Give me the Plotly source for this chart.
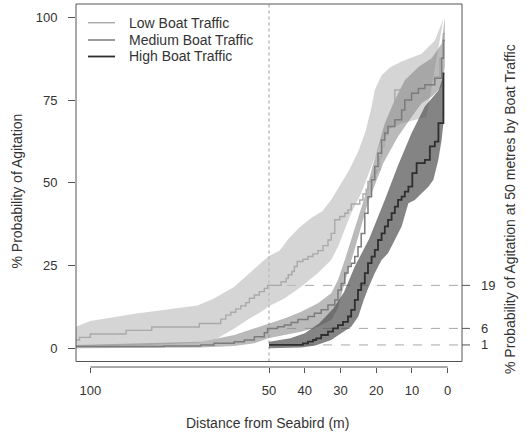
import plotly.graph_objects as go

# ---------------- data ----------------
series_names = ["Low Boat Traffic", "Medium Boat Traffic", "High Boat Traffic"]

low_d = [104, 103, 100, 90, 82.8, 69.5, 63.5, 62.1, 60.7, 59.3, 57.9, 56.5, 55.5, 54.1, 52.7,
         51.3, 50.4, 46.6, 45.2, 44.6, 43.6, 42.9, 42.1, 40.5, 39.1, 37.7, 36.3, 34.9, 33.5, 32.6,
         31.6, 30.2, 28.8, 27.9, 27.0, 24.6, 23.7, 22.8, 22.3, 21.3, 20.6, 19.9, 19.0, 18.5, 17.8,
         16.7, 15.5, 14.8, 9.6, 8.2, 6.8, 5.4, 3.6, 2.2, 1.2, 0.8]
low_v = [2.5, 3.3, 4.3, 5.4, 6.4, 7.5, 8.8, 10.0, 10.9, 11.9, 12.8, 13.8, 15.1, 16.1, 17.1,
         18.1, 19.0, 20.1, 21.1, 22.2, 23.2, 24.7, 26.2, 26.9, 27.7, 28.5, 29.5, 31.0, 32.7, 34.7,
         38.8, 39.8, 40.8, 41.8, 43.6, 44.8, 46.6, 48.0, 50.4, 51.9, 52.9, 53.9, 57.9, 60.9, 64.5,
         67.0, 69.0, 78.0, 78.9, 79.6, 80.5, 81.2, 82.0, 87.6, 95.0, 95.0]

med_d = [104, 79.4, 69.1, 65.4, 59.7, 56.9, 54.1, 51.3, 50.4, 47.6, 45.7, 43.8, 41.9, 39.1, 37.3,
         35.4, 33.5, 31.6, 30.7, 29.8, 28.8, 27.9, 27.0, 26.0, 25.1, 24.2, 23.2, 22.3, 21.3, 20.4,
         19.5, 18.5, 17.6, 16.7, 14.8, 12.9, 12.0, 10.1, 8.2, 6.4, 3.6, 1.7, 1.2, 0.8]
med_v = [0.5, 0.7, 1.0, 1.5, 2.0, 2.5, 3.5, 4.7, 6.0, 6.5, 7.0, 7.8, 8.7, 9.6, 10.6,
         11.6, 13.1, 14.6, 17.6, 19.6, 22.7, 24.7, 25.7, 27.7, 30.7, 34.7, 40.8, 45.8, 50.9, 54.9,
         58.9, 62.9, 65.0, 67.0, 69.0, 72.0, 75.0, 77.0, 78.5, 79.6, 81.6, 87.6, 93.0, 93.0]

high_d = [50.0, 40.5, 39.1, 37.7, 36.8, 35.4, 33.5, 32.1, 30.7, 29.3, 27.9, 27.0, 26.0, 25.1, 24.2,
          23.2, 22.3, 21.3, 20.4, 19.5, 18.5, 17.6, 16.7, 15.7, 14.8, 13.9, 12.9, 12.0, 11.0, 9.9,
          8.7, 6.4, 5.0, 3.6, 2.6, 1.2, 0.9]
high_v = [1.0, 1.5, 2.0, 2.5, 3.0, 4.0, 5.0, 6.0, 7.0, 8.0, 9.6, 11.6, 14.6, 17.6, 19.6,
          22.7, 25.7, 27.7, 29.7, 32.7, 34.7, 36.8, 38.8, 40.8, 42.8, 44.8, 45.8, 47.3, 48.8, 52.9,
          55.9, 56.9, 61.0, 62.4, 68.0, 83.0, 83.0]

# confidence bands
low_up_d = [104, 100, 87, 70, 65.4, 59.7, 54.1, 50.2, 47, 44.6, 41.5, 38, 35, 32.5, 30,
            27.5, 25, 23, 21.5, 20.4, 18.5, 16, 12.9, 7.3, 3.6, 1.2]
low_up_v = [6.5, 8.2, 10.5, 12.9, 15.0, 18.6, 24.0, 27.7, 29.5, 33.0, 36.5, 39.5, 41.5, 45.0, 49.5,
            54.0, 59.5, 65.5, 72.0, 78.0, 82.5, 85.0, 86.6, 89.0, 93.0, 99.5]
low_lo_d = [104, 84, 70, 64.4, 59.7, 56, 51.3, 50.2, 45.7, 41, 36.3, 32.6, 30.7, 27, 24.2,
            21.3, 18.5, 16.7, 12.9, 7.3, 5.9]
low_lo_v = [0.5, 1.0, 1.7, 3.0, 6.0, 8.6, 11.6, 12.6, 15.0, 18.6, 22.7, 26.7, 30.7, 40.8, 46.8,
            55.0, 63.0, 66.0, 68.0, 69.5, 70.0]

med_up_d = [104, 69.1, 59.7, 54.1, 50.2, 45.7, 41, 36.3, 32.6, 30.7, 28.8, 27, 25.1, 23.2, 21.3,
            19.5, 17.6, 14.8, 12, 8.2, 4.5, 1.7, 0.8]
med_up_v = [1, 2, 4, 6, 7.5, 9, 11, 13.6, 16.6, 20.6, 26.7, 32.7, 38.8, 45.8, 53.9,
            61, 68, 75, 81, 85, 87.6, 92, 100]
med_lo_d = [104, 69.1, 59.7, 54.1, 50.2, 45.7, 41, 36.3, 32.6, 30.7, 28.8, 26, 22.3, 18, 13.9,
            10, 7.3, 4.5, 1.7, 0.8]
med_lo_v = [0, 0.2, 0.7, 1.5, 3, 4, 5, 6.5, 8.5, 12, 20, 30, 44, 56, 64,
            70, 74, 76, 79, 85]

high_up_d = [50, 44, 40, 36, 32, 29, 26, 22, 17.6, 14, 10.1, 6.4, 2.5, 1.0]
high_up_v = [2, 3, 4.5, 7.5, 12, 17, 24.7, 33, 44.8, 55, 65, 73, 78, 83]
high_lo_d = [50, 41, 37, 32.6, 29.8, 27, 25, 23.5, 22.3, 20.4, 18.5, 16.7, 14.8, 12.9, 12,
             11, 9.2, 7.3, 5.4, 4, 2.6, 1.7, 1.0]
high_lo_v = [0, 0.2, 0.8, 2.5, 4.5, 6.5, 9.6, 14.6, 18, 22.7, 26.7, 28.7, 32.7, 36.8, 39.8,
             43.8, 44.8, 46.8, 48.8, 50.9, 57, 63, 70]

x_ticks = [100, 50, 40, 30, 20, 10, 0]
y_ticks = [0, 25, 50, 75, 100]
ref_distance = 50
at50_values = [19, 6, 1]   # low, medium, high at 50 m

# ---------------- styling ----------------
FONT = "Liberation Sans, Arial, Helvetica, sans-serif"
TXT = "#333333"
fill_cols = ["rgba(190,190,190,0.65)", "rgba(130,130,130,0.55)", "rgba(80,80,80,0.7)"]
line_cols = ["#a9a9a9", "#7b7b7b", "#2e2e2e"]
line_w = [1.4, 1.5, 1.8]

W, H = 527, 434
ML, MR, MT, MB = 76, 65, 4, 67
PW = W - ML - MR
PH = H - MT - MB
box_bottom_px = 361.5
ydom0 = (H - MB - box_bottom_px) / PH


def px_x(px):
    return (px - ML) / PW


def px_y(py):
    return (H - MB - py) / PH


fig = go.Figure()

bands = [(low_up_d, low_up_v, low_lo_d, low_lo_v),
         (med_up_d, med_up_v, med_lo_d, med_lo_v),
         (high_up_d, high_up_v, high_lo_d, high_lo_v)]
for (ud, uv, ldd, lv), fc in zip(bands, fill_cols):
    fig.add_trace(go.Scatter(x=ud + ldd[::-1], y=uv + lv[::-1], fill="toself",
                             fillcolor=fc, line=dict(width=0), mode="lines",
                             hoverinfo="skip", showlegend=False))

lines = [(low_d, low_v), (med_d, med_v), (high_d, high_v)]
for (d, v), lc, lw, nm in zip(lines, line_cols, line_w, series_names):
    fig.add_trace(go.Scatter(x=d, y=v, mode="lines", line=dict(color=lc, width=lw, shape="hv"),
                             name=nm, showlegend=False))

shapes = []
# box
shapes.append(dict(type="rect", xref="x domain", yref="y domain", x0=0, x1=1, y0=0, y1=1,
                   line=dict(color="#555555", width=1), layer="above"))
# x axis line (offset below box)
shapes.append(dict(type="line", xref="x", yref="paper", x0=x_ticks[0], x1=x_ticks[-1], y0=0, y1=0,
                   line=dict(color="#555555", width=1)))
# vertical dotted line at 50 m
shapes.append(dict(type="line", xref="x", yref="y domain", x0=ref_distance, x1=ref_distance, y0=0, y1=1,
                   line=dict(color="#9a9a9a", width=1, dash="dot"), layer="below"))
# dashed reference lines + right ticks
for v in at50_values:
    shapes.append(dict(type="line", xref="x", yref="y", x0=ref_distance, x1=-4, y0=v, y1=v,
                       line=dict(color="#a8a8a8", width=1, dash="dash"), layer="below"))
    shapes.append(dict(type="line", xref="paper", yref="y", x0=1, x1=1 + 8 / PW, y0=v, y1=v,
                       line=dict(color="#555555", width=1)))

annotations = []
for v in at50_values:
    annotations.append(dict(xref="paper", yref="y", x=px_x(479), y=v, text=str(v), showarrow=False,
                            xanchor="left", yanchor="middle", font=dict(family=FONT, size=13, color=TXT)))

# legend
leg_y = [22.7, 40.0, 56.5]
for nm, lc, lw, py in zip(series_names, line_cols, line_w, leg_y):
    shapes.append(dict(type="line", xref="paper", yref="paper", x0=px_x(88), x1=px_x(115),
                       y0=px_y(py), y1=px_y(py), line=dict(color=lc, width=lw)))
    annotations.append(dict(xref="paper", yref="paper", x=px_x(127), y=px_y(py), text=nm,
                            showarrow=False, xanchor="left", yanchor="middle",
                            font=dict(family=FONT, size=14, color=TXT)))

# axis titles
annotations.append(dict(xref="paper", yref="paper", x=px_x(267.5), y=px_y(423),
                        text="Distance from Seabird (m)", showarrow=False, xanchor="center",
                        yanchor="middle", font=dict(family=FONT, size=14, color=TXT)))
annotations.append(dict(xref="paper", yref="paper", x=px_x(17), y=px_y(191.5),
                        text="% Probability of Agitation", showarrow=False, textangle=-90,
                        xanchor="center", yanchor="middle", font=dict(family=FONT, size=14, color=TXT)))
annotations.append(dict(xref="paper", yref="paper", x=px_x(510), y=px_y(209),
                        text="% Probability of Agitation at 50 metres by Boat Traffic", showarrow=False,
                        textangle=-90, xanchor="center", yanchor="middle",
                        font=dict(family=FONT, size=14, color=TXT)))

fig.update_layout(
    width=W, height=H,
    margin=dict(l=ML, r=MR, t=MT, b=MB, pad=0),
    paper_bgcolor="white", plot_bgcolor="white",
    showlegend=False,
    shapes=shapes, annotations=annotations,
    xaxis=dict(range=[104, -4], tickvals=x_ticks, ticktext=[str(t) for t in x_ticks],
               ticks="outside", ticklen=5, tickcolor="#555555", showline=False, showgrid=False,
               zeroline=False, anchor="free", position=0, ticklabelstandoff=6,
               tickfont=dict(family=FONT, size=13, color=TXT)),
    yaxis=dict(range=[-4, 104], domain=[ydom0, 1], tickvals=y_ticks, ticks="outside", ticklen=7,
               tickcolor="#555555", showline=False, showgrid=False, zeroline=False,
               ticklabelstandoff=8, tickfont=dict(family=FONT, size=13, color=TXT)),
)

fig.write_html("out.html", config={"displayModeBar": False, "staticPlot": True},
               post_script="document.body.style.margin='0';document.body.style.overflow='hidden';")
